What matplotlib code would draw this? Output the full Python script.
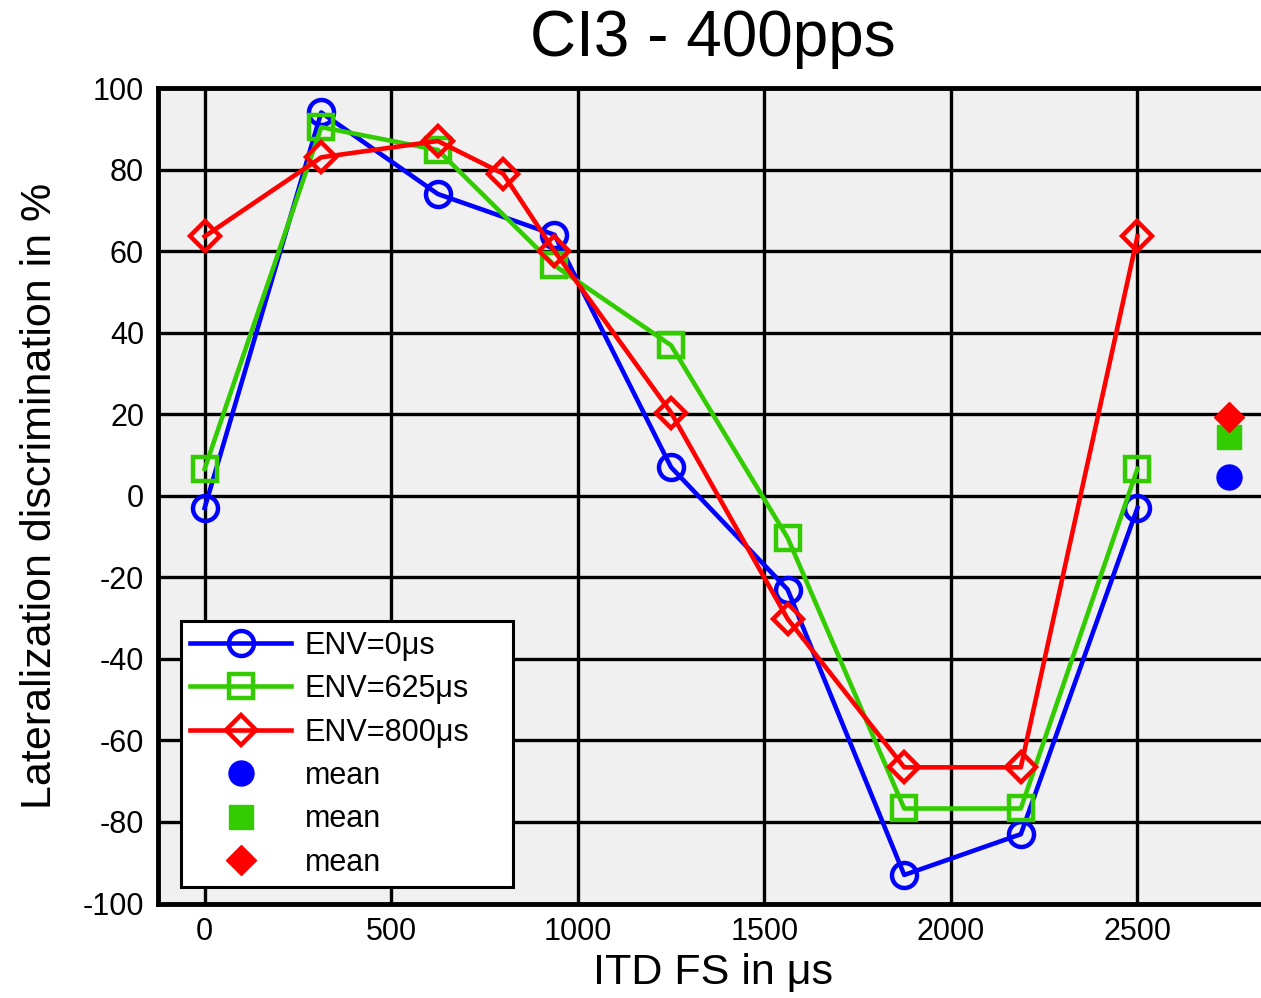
import matplotlib.pyplot as plt
import numpy as np

plt.rcParams['font.family'] = ['Liberation Sans', 'DejaVu Sans']
plt.rcParams['axes.unicode_minus'] = False

x_itd = [0, 312.5, 625, 937.5, 1250, 1562.5, 1875, 2187.5, 2500]
x_itd_red = [0, 312.5, 625, 800, 937.5, 1250, 1562.5, 1875, 2187.5, 2500]
env0 = [-3, 94, 74, 64, 7, -23, -93, -83, -3]
env625 = [6.6, 90.4, 84.8, 56.5, 36.9, -10.3, -76.7, -76.7, 6.6]
env800 = [63.6, 83, 87, 79, 60, 20.4, -30.2, -66.6, -66.6, 63.6]
mean_x = 2745
mean_vals = [4.7, 14.3, 19.2]
labels = ['ENV=0\u03bcs', 'ENV=625\u03bcs', 'ENV=800\u03bcs']
colors = ['#0000ff', '#33cc00', '#ff0000']
markers = ['o', 's', 'D']
msizes = [18, 17, 15]

fig = plt.figure(figsize=(12.61, 9.98), dpi=100)
ax = fig.add_axes([158/1261, 1-903.5/998, 1110/1261, 815.5/998])
ax.set_facecolor('#f0f0f0')

series = [(x_itd, env0), (x_itd, env625), (x_itd_red, env800)]
handles = []
for (xs, ys), c, m, ms, lab in zip(series, colors, markers, msizes, labels):
    h, = ax.plot(xs, ys, color=c, lw=3.3, marker=m, ms=ms, mfc='none',
                 mec=c, mew=3.2, label=lab, zorder=3)
    handles.append(h)
for v, c, m, ms in zip(mean_vals, colors, markers, msizes):
    h, = ax.plot([mean_x], [v], ls='none', marker=m, ms=ms, color=c,
                 mec=c, label='mean', zorder=3)
    handles.append(h)

ax.set_xlim(-125, 2850)
ax.set_ylim(-100, 100)
ax.set_xticks([0, 500, 1000, 1500, 2000, 2500])
ax.set_yticks(np.arange(-100, 101, 20))
ax.grid(True, color='black', lw=2.4)
ax.set_axisbelow(True)
ax.tick_params(length=0, labelsize=22, pad=10)
for s in ['top', 'bottom', 'left']:
    ax.spines[s].set_linewidth(3.5)
ax.spines['right'].set_visible(False)

ax.set_title('CI3 - 400pps', fontsize=46, pad=23)
ax.set_xlabel('ITD FS in \u03bcs', fontsize=31, labelpad=4)
ax.set_ylabel('Lateralization discrimination in %', fontsize=31, labelpad=16)

leg = ax.legend(handles=handles, loc='lower left',
                bbox_to_anchor=(0.0207, 0.0202, 0.299, 0.3), mode='expand',
                borderaxespad=0, fontsize=22, handlelength=3.3, labelspacing=0.44,
                fancybox=False, edgecolor='black', framealpha=1, facecolor='white',
                borderpad=0.3, handletextpad=0.45)
leg.get_frame().set_linewidth(2.2)

fig.savefig('out.png', dpi=100)
